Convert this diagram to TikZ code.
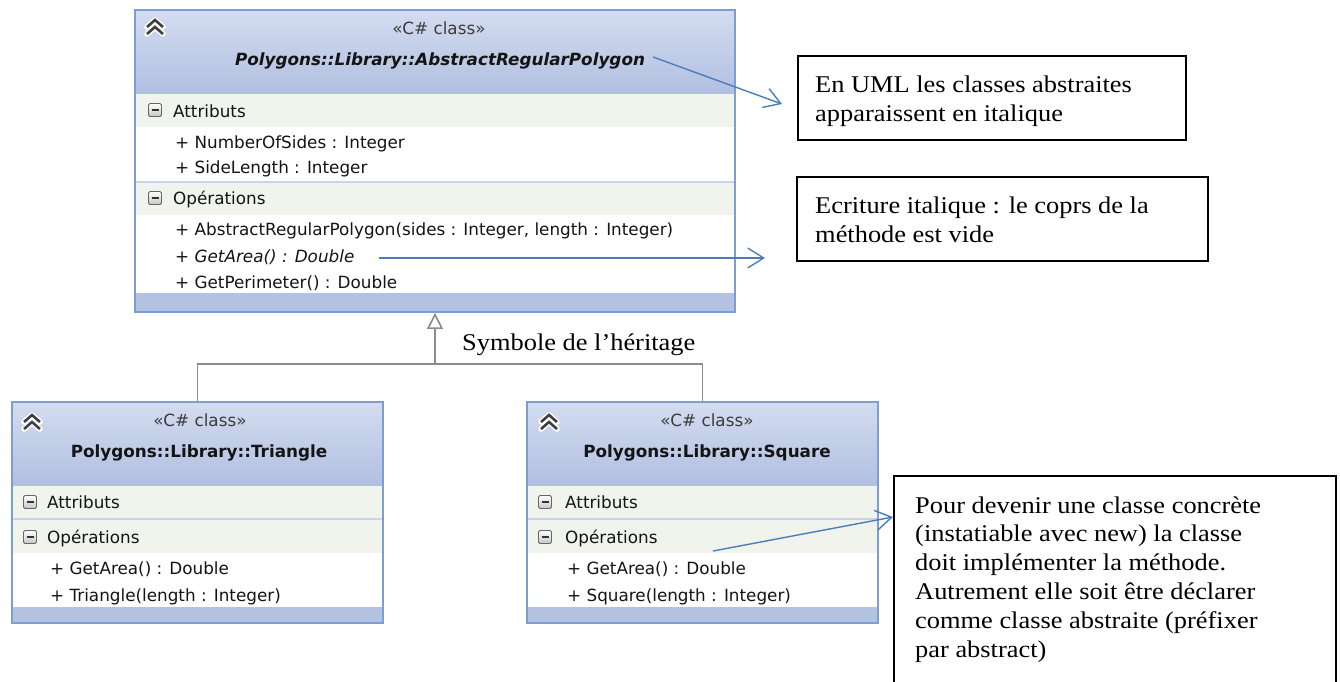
\documentclass[tikz,border=0pt]{standalone}
\usepackage{fontspec}
\usetikzlibrary{arrows.meta}
\newfontfamily\umlfont{DejaVu Sans}
\newfontfamily\notefont{Liberation Serif}[FakeStretch=1.1]
\definecolor{hdtop}{HTML}{D3DCF0}
\definecolor{hdbot}{HTML}{B1BFE0}
\definecolor{bandc}{HTML}{B4C2E2}
\definecolor{rowbg}{HTML}{F1F4EC}
\definecolor{sepc}{HTML}{C9D5EA}
\definecolor{framec}{HTML}{7D9ED3}
\definecolor{notec}{HTML}{4A7EBB}
\definecolor{inhc}{HTML}{8C8C8C}
\definecolor{txtc}{HTML}{141414}
\definecolor{stc}{HTML}{3C3C3C}
\definecolor{chevc}{HTML}{404040}

\newcommand\minusicon[2]{%
 \begin{scope}[shift={(#1,#2)}]
  \shade[top color=white,bottom color=gray!45,draw=gray!80!black,line width=0.8,rounded corners=1.5] (-6.5,-6.5) rectangle (6.5,6.5);
  \draw[line width=1.6,black!80] (-3.5,0)--(3.5,0);
 \end{scope}}
\newcommand\chevicon[2]{%
 \begin{scope}[shift={(#1,#2)}]
  \draw[white,line width=5.5,line cap=round,line join=round] (-8,-2)--(0,-9)--(8,-2) (-8,5)--(0,-2)--(8,5);
  \draw[chevc,line width=2.6,line join=miter] (-8,-2)--(0,-9)--(8,-2) (-8,5)--(0,-2)--(8,5);
 \end{scope}}

\begin{document}
\begin{tikzpicture}[x=1pt,y=-1pt,
 uml/.style={font=\umlfont\fontsize{16.8}{20}\selectfont, text=txtc, inner sep=0pt},
 item/.style={uml, anchor=base west},
 stereo/.style={uml, anchor=base, text=stc},
 cname/.style={uml, anchor=base, font=\umlfont\bfseries\fontsize{16.8}{20}\selectfont},
 frame/.style={draw=framec, line width=1.9, rectangle, inner sep=0pt},
 notebox/.style={draw=black, line width=1.8, inner sep=0pt, anchor=north west},
 notetext/.style={font=\notefont\fontsize{24}{29.2}\selectfont, anchor=base west, inner sep=0pt, text=black},
 callout/.style={draw=notec, line width=1.4, -{Straight Barb[length=16pt,width=20pt]}},
 inh/.style={draw=inhc, line width=1.6}
]
\useasboundingbox (0,0) rectangle (1340,681);
\fill[white] (0,0) rectangle (1340,681);

% ---------- Abstract class ----------
\shade[top color=hdtop,bottom color=hdbot] (135,10) rectangle (735,94);
\fill[rowbg] (135,94) rectangle (735,127);
\fill[white] (135,127) rectangle (735,181);
\fill[sepc] (135,181) rectangle (735,183);
\fill[rowbg] (135,183) rectangle (735,215);
\fill[white] (135,215) rectangle (735,293);
\fill[bandc] (135,293) rectangle (735,312);
\node[frame, minimum width=600, minimum height=302] (abs) at (435,161) {};
\chevicon{155}{29}
\minusicon{155}{110}
\minusicon{155}{198}
\node[stereo] (absst) at (439,34) {«C\# class»};
\node[cname, font=\umlfont\bfseries\itshape\fontsize{16.8}{20}\selectfont] (absnm) at (440,65) {Polygons::Library::AbstractRegularPolygon};
\node[item] (absattr) at (173,117) {Attributs};
\node[item] (absa1) at (175,148) {+ NumberOfSides : Integer};
\node[item] (absa2) at (175,173) {+ SideLength : Integer};
\node[item] (absops) at (173,204) {Opérations};
\node[item] (abso1) at (175,235) {+ AbstractRegularPolygon(sides : Integer, length : Integer)};
\node[item, font=\umlfont\itshape\fontsize{16.8}{20}\selectfont] (abso2) at (175,262) {+ GetArea() : Double};
\node[item] (abso3) at (175,288) {+ GetPerimeter() : Double};

% ---------- Triangle ----------
\shade[top color=hdtop,bottom color=hdbot] (12,402) rectangle (383,486);
\fill[rowbg] (12,486) rectangle (383,518);
\fill[sepc] (12,518) rectangle (383,520);
\fill[rowbg] (12,520) rectangle (383,553);
\fill[white] (12,553) rectangle (383,607);
\fill[bandc] (12,607) rectangle (383,623);
\node[frame, minimum width=371, minimum height=221] (tri) at (197.5,512.5) {};
\chevicon{32}{424}
\minusicon{30}{502}
\minusicon{30}{537}
\node[stereo] (trist) at (200,426) {«C\# class»};
\node[cname] (trinm) at (199,457) {Polygons::Library::Triangle};
\node[item] (triattr) at (47,508) {Attributs};
\node[item] (triops) at (47,543) {Opérations};
\node[item] (trio1) at (50,574) {+ GetArea() : Double};
\node[item] (trio2) at (50,601) {+ Triangle(length : Integer)};

% ---------- Square ----------
\shade[top color=hdtop,bottom color=hdbot] (527,402) rectangle (878,486);
\fill[rowbg] (527,486) rectangle (878,518);
\fill[sepc] (527,518) rectangle (878,520);
\fill[rowbg] (527,520) rectangle (878,553);
\fill[white] (527,553) rectangle (878,607);
\fill[bandc] (527,607) rectangle (878,623);
\node[frame, minimum width=351, minimum height=221] (sq) at (702.5,512.5) {};
\chevicon{549}{424}
\minusicon{545}{502}
\minusicon{545}{537}
\node[stereo] (sqst) at (707,426) {«C\# class»};
\node[cname] (sqnm) at (707,457) {Polygons::Library::Square};
\node[item] (sqattr) at (565,508) {Attributs};
\node[item] (sqops) at (565,543) {Opérations};
\node[item] (sqo1) at (567,574) {+ GetArea() : Double};
\node[item] (sqo2) at (567,601) {+ Square(length : Integer)};

% ---------- Inheritance ----------
\coordinate (j) at (abs.south |- 0,364);
\draw[inh] (tri.north) |- (j) -| (sq.north);
\draw[inh, -{Triangle[open, length=16pt, width=16pt]}] (j) -- (abs.south);
\node[notetext] (inhlbl) at (462,350) {Symbole de l’héritage};

% ---------- Notes ----------
\node[notebox, minimum width=388, minimum height=84] (n1) at (797,55) {};
\node[notebox, minimum width=411, minimum height=84] (n2) at (796,176) {};
\node[notebox, minimum width=442, minimum height=240] (n3) at (893,475) {};
\node[notetext] (t1) at (815,92) {\begin{tabular}[t]{@{}l@{}}En UML les classes abstraites\\apparaissent en italique\end{tabular}};
\node[notetext] (t2) at (815,213) {\begin{tabular}[t]{@{}l@{}}Ecriture italique : le coprs de la\\méthode est vide\end{tabular}};
\node[notetext, font=\notefont\fontsize{24}{28.8}\selectfont] (t3) at (915,513) {\begin{tabular}[t]{@{}l@{}}Pour devenir une classe concrète\\(instatiable avec new) la classe\\doit implémenter la méthode.\\Autrement elle soit être déclarer\\comme classe abstraite (préfixer\\par abstract)\end{tabular}};

% ---------- Callouts ----------
\coordinate (c1s) at (653,57);
\coordinate (c1e) at (782,104);
\coordinate (c2s) at (379,258);
\coordinate (c2e) at (765,258);
\coordinate (c3s) at (713,551);
\coordinate (c3e) at (893,517);
\draw[callout] (c1s) -- (c1e);
\draw[callout] (c2s) -- (c2e);
\draw[callout] (c3s) -- (c3e);
\end{tikzpicture}
\end{document}
